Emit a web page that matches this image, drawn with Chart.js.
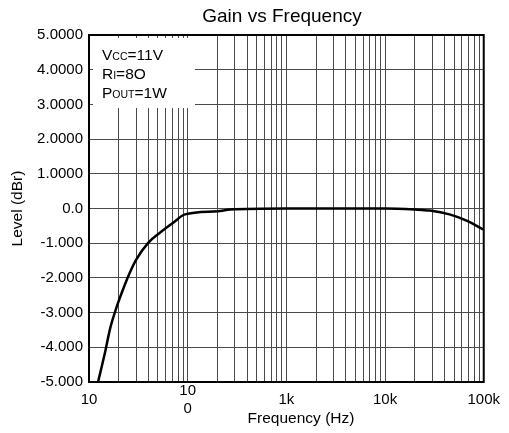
<!DOCTYPE html>
<html><head><meta charset="utf-8">
<script src="https://cdn.jsdelivr.net/npm/chart.js@4/dist/chart.umd.min.js"></script>
<style>html,body{margin:0;padding:0;background:#fff;}#wrap{width:509px;height:433px;position:relative;}</style>
</head><body><div id="wrap"><canvas id="c"></canvas></div>
<script>
// ---- data ----
const freqHz   = [12.35, 14.45, 16.5, 19.0, 22.2, 25.9, 30.3, 39.8, 52.3, 71.4, 93.9, 202, 269, 1000, 5000, 10000, 20000, 28400, 45000, 67000, 100000];
const levelDbr = [-5.0, -4.18, -3.42, -2.85, -2.32, -1.85, -1.46, -0.99, -0.70, -0.41, -0.17, -0.08, -0.03, 0, 0, 0, -0.03, -0.06, -0.17, -0.35, -0.61];
const xDecades      = [10, 100, 1000, 10000, 100000];
const xDecadeLabels = ['10', ['10','0'], '1k', '10k', '100k'];
const xMultipliers  = [1,2,3,4,5,6,7,8,9];
const yTickValues = [5,4,3,2,1,0,-1,-2,-3,-4,-5];
const yTickLabels = ['5.0000','4.0000','3.0000','2.0000','1.0000','0.0','-1.000','-2.000','-3.000','-4.000','-5.000'];
const chartTitle = 'Gain vs Frequency';
const xTitle = 'Frequency (Hz)';
const yTitle = 'Level (dBr)';
// info box lines: [text, small?]
const infoLines = [
  [['V',false],['CC',true],['=11V',false]],
  [['R',false],['I',true],['=8O',false]],
  [['P',false],['OUT',true],['=1W',false]]
];

const FONT = "'Liberation Sans', Arial, Helvetica, sans-serif";
Chart.defaults.font.family = FONT;
Chart.defaults.color = '#000';

const xGridValues = [];
for (let d = 0; d < xDecades.length - 1; d++) for (const m of xMultipliers) xGridValues.push(xDecades[d]*m);
xGridValues.push(xDecades[xDecades.length-1]);

function decadeLabel(v){
  for (let i=0;i<xDecades.length;i++) if (Math.abs(Math.log10(v)-Math.log10(xDecades[i]))<1e-6) return xDecadeLabels[i];
  return '';
}

const infoPlugin = {
  id:'info',
  beforeDatasetsDraw(chart){
    const c = chart.ctx, a = chart.chartArea;
    c.save();
    c.fillStyle = '#fff';
    c.fillRect(a.left+4, a.top+3, 102, 70);
    c.fillStyle = '#000';
    c.textBaseline = 'alphabetic';
    const base = [60, 79, 98];
    infoLines.forEach((line, i) => {
      let x = a.left + 13;
      line.forEach(([t, small]) => {
        c.font = (small ? '10.5px ' : '15.5px ') + FONT;
        c.fillText(t, x, base[i]);
        x += c.measureText(t).width;
      });
    });
    c.restore();
  },
  afterDraw(chart){
    const c = chart.ctx, a = chart.chartArea;
    c.save();
    c.strokeStyle = '#000';
    c.lineWidth = 2;
    c.strokeRect(a.left, a.top, a.right-a.left, a.bottom-a.top);
    c.fillStyle = '#000';
    c.textAlign = 'center';
    c.textBaseline = 'alphabetic';
    c.font = '19px ' + FONT;
    c.fillText(chartTitle, 282, 22);
    c.font = '15.5px ' + FONT;
    c.textBaseline = 'middle';
    c.fillText(xTitle, 301, 419);
    c.restore();
  }
};

new Chart(document.getElementById('c'), {
  type: 'line',
  data: { datasets: [{
    data: freqHz.map((f,i)=>({x:f, y:levelDbr[i]})),
    borderColor:'#000', borderWidth:2.5, pointRadius:0, fill:false,
    cubicInterpolationMode:'monotone'
  }]},
  options: {
    responsive:true, maintainAspectRatio:false, animation:false, devicePixelRatio:1,
    layout:{padding:{left:0,right:25,top:35,bottom:0}},
    plugins:{ legend:{display:false}, tooltip:{enabled:false}, title:{display:false} },
    scales:{
      x:{
        type:'logarithmic', min:10, max:100000,
        afterBuildTicks:(s)=>{ s.ticks = xGridValues.map(v=>({value:v})); },
        grid:{color:'#4a4a4a', lineWidth:1, drawTicks:false},
        border:{display:true, color:'#000', width:2},
        ticks:{autoSkip:false, maxRotation:0, minRotation:0, padding:9, crossAlign:'center',
          font:{size:15}, color:'#000', callback:(v)=>decadeLabel(v)},
        afterFit:(s)=>{ s.height = 51; }
      },
      y:{
        min:-5, max:5,
        afterBuildTicks:(s)=>{ s.ticks = yTickValues.map(v=>({value:v})); },
        grid:{color:'#4a4a4a', lineWidth:1, drawTicks:false},
        border:{display:true, color:'#000', width:2},
        ticks:{padding:6, font:{size:15}, color:'#000',
          callback:(v)=>{const i=yTickValues.indexOf(v); return i>=0?yTickLabels[i]:'';}},
        title:{display:true, text:yTitle, font:{size:15.5}, color:'#000', padding:{top:8,bottom:0}},
        afterFit:(s)=>{ s.width = 89; }
      }
    }
  },
  plugins:[infoPlugin]
});
</script></body></html>
